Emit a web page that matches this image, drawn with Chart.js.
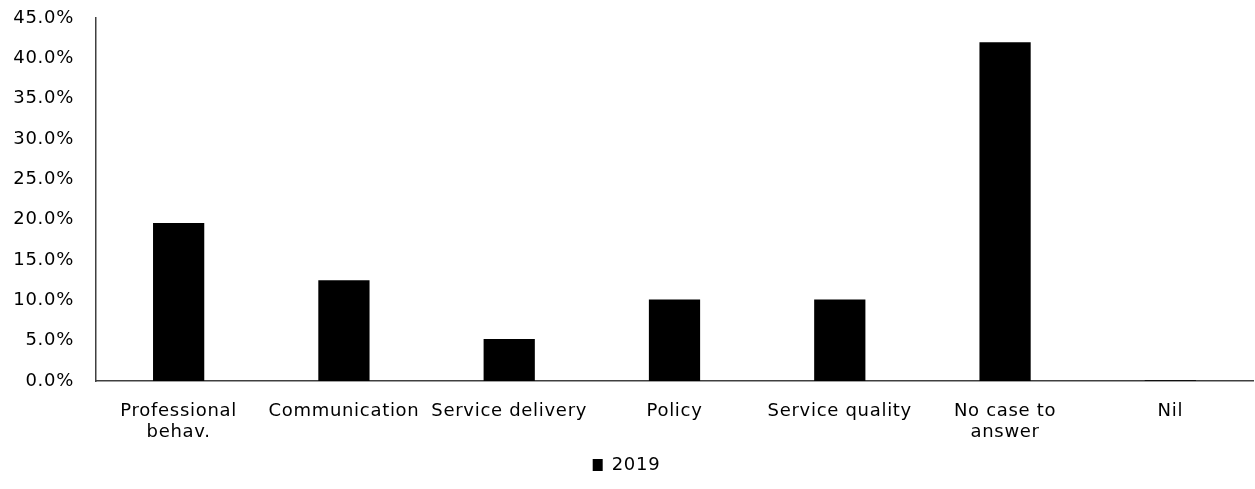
<!DOCTYPE html>
<html>
<head>
<meta charset="utf-8">
<title>Complaints by category 2019</title>
<script src="https://cdn.jsdelivr.net/npm/chart.js@4"></script>
<style>
  html, body { margin: 0; padding: 0; background: #fff; }
  #wrap { width: 1255px; height: 489px; }
</style>
</head>
<body>
<div id="wrap"><canvas id="complaintChart" width="1255" height="489"></canvas></div>
<script>
// Data
const categories = [
  ['Professional', 'behav.'],
  'Communication',
  'Service delivery',
  'Policy',
  'Service quality',
  ['No case to', 'answer'],
  'Nil'
];
const seriesLabel = '2019';
const values2019 = [19.6, 12.5, 5.2, 10.1, 10.1, 42.0, 0.1];
const yTicks = [0, 5, 10, 15, 20, 25, 30, 35, 40, 45];

const FONT = { family: '"DejaVu Sans", sans-serif', size: 18, lineHeight: 1.17 };

// slightly wider text, closer to the original typeface
const letterSpacing = {
  id: 'letterSpacing',
  beforeUpdate(chart) { chart.ctx.letterSpacing = '0.7px'; },
  beforeDraw(chart) { chart.ctx.letterSpacing = '0.7px'; }
};

const ctx = document.getElementById('complaintChart').getContext('2d');

new Chart(ctx, {
  type: 'bar',
  plugins: [letterSpacing],
  data: {
    labels: categories,
    datasets: [{
      label: seriesLabel,
      data: values2019,
      backgroundColor: '#000000',
      borderWidth: 0,
      barPercentage: 0.31,
      categoryPercentage: 1.0
    }]
  },
  options: {
    responsive: false,
    animation: false,
    layout: {
      padding: { top: 0, right: 2, left: 0, bottom: 5 }
    },
    plugins: {
      tooltip: { enabled: false },
      legend: {
        position: 'bottom',
        labels: {
          color: '#000',
          font: FONT,
          boxWidth: 10,
          boxHeight: 12,
          padding: 10
        }
      }
    },
    scales: {
      x: {
        afterFit: (scale) => {
          scale.height = 65;
        },
        grid: { display: false },
        border: { display: true, color: '#404040', width: 1.5 },
        ticks: {
          color: '#000',
          font: FONT,
          maxRotation: 0,
          autoSkip: false,
          padding: 12
        }
      },
      y: {
        min: 0,
        max: 45,
        afterBuildTicks: (scale) => {
          scale.ticks = yTicks.map(v => ({ value: v }));
        },
        afterFit: (scale) => {
          scale.width = 96;
          scale.paddingTop = 18;
        },
        grid: { display: false },
        border: { display: true, color: '#404040', width: 1.5 },
        ticks: {
          color: '#000',
          font: FONT,
          padding: 14,
          callback: (v) => Number(v).toFixed(1) + '%'
        }
      }
    }
  }
});
</script>
</body>
</html>
